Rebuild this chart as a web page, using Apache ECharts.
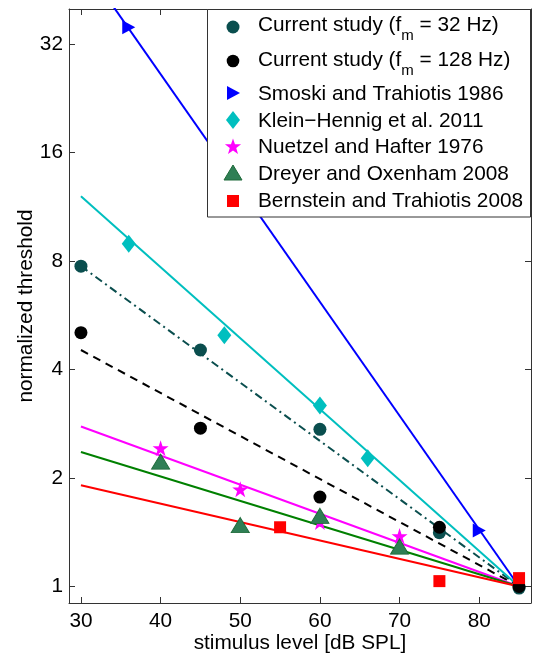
<!DOCTYPE html>
<html>
<head>
<meta charset="utf-8">
<script src="https://cdn.jsdelivr.net/npm/echarts@6/dist/echarts.min.js"></script>
<style>
html,body{margin:0;padding:0;background:#fff;}
#chart{width:536px;height:655px;}
</style>
</head>
<body>
<div id="chart"></div>
<script>
// ---- data ----
const seriesNames = [
  'Current study (f_m = 32 Hz)',
  'Current study (f_m = 128 Hz)',
  'Smoski and Trahiotis 1986',
  'Klein\u2212Hennig et al. 2011',
  'Nuetzel and Hafter 1976',
  'Dreyer and Oxenham 2008',
  'Bernstein and Trahiotis 2008'
];
const current32X = [30, 45, 60, 75, 85];
const current32Y = [7.74, 4.53, 2.73, 1.41, 0.99];
const current128X = [30, 45, 60, 75, 85];
const current128Y = [5.06, 2.75, 1.77, 1.46, 1.0];
const smoskiX = [36, 80];
const smoskiY = [35.6, 1.43];
const kleinX = [36, 48, 60, 66];
const kleinY = [8.93, 4.98, 3.18, 2.27];
const nuetzelX = [40, 50, 60, 70];
const nuetzelY = [2.42, 1.86, 1.51, 1.38];
const dreyerX = [40, 50, 60, 70];
const dreyerY = [2.22, 1.48, 1.57, 1.29];
const bernX = [55, 75, 85];
const bernY = [1.46, 1.035, 1.055];

// fitted lines (start level, end level)
const fitX = [30, 85];
const fit32Y = [7.74, 1];
const fit128Y = [4.53, 1];
const fitSmoskiY = [54.6, 1];
const fitKleinY = [12.1, 1];
const fitNuetzelY = [2.78, 1];
const fitDreyerY = [2.36, 1];
const fitBernY = [1.91, 1];

const xTickLabels = ['30', '40', '50', '60', '70', '80'];
const yTickLabels = ['1', '2', '4', '8', '16', '32'];

// ---- styles ----
const FONT = '"Liberation Sans", Arial, Helvetica, sans-serif';
const FS = 20.8;
const C_TEAL = '#0a4e4e', C_BLACK = '#000000', C_BLUE = '#0000ff', C_CYAN = '#00bfbf',
      C_MAG = '#ff00ff', C_GREEN = '#008000', C_GTRI = '#2f7f55', C_RED = '#ff0000';
const STAR = 'path://M50,0L61.8,35.1L98.9,35.1L68.9,56.8L80.3,91.9L50,70.2L19.7,91.9L31.1,56.8L1.1,35.1L38.2,35.1Z';
const RTRI = 'path://M0,0L12,7L0,14Z';

function pairs(xs, ys) { return xs.map((x, i) => [x, ys[i]]); }

const chart = echarts.init(document.getElementById('chart'), null, {renderer: 'canvas'});

const axisCommon = {
  axisLine: {show: true, onZero: false, lineStyle: {color: '#333', width: 1}},
  axisTick: {show: true, inside: true, length: 6, lineStyle: {color: '#333', width: 1}},
  splitLine: {show: false},
};

function lineSeries(name, ys, color, type) {
  return {
    name: name, type: 'line', data: pairs(fitX, ys), symbol: 'none', z: 2,
    lineStyle: {color: color, width: 2, type: type || 'solid'}, clip: true, silent: true
  };
}
function scatterSeries(name, xs, ys, symbol, size, color, extra) {
  return Object.assign({
    name: name, type: 'scatter', data: pairs(xs, ys), symbol: symbol, symbolSize: size, z: 3,
    symbolKeepAspect: false,
    itemStyle: {color: color, opacity: 1}
  }, extra || {});
}

// legend drawn as graphic (markers + text)
const LX = 233, TX = 258;
const rowY = [25, 60, 94, 121, 147, 174, 201];
const SUB_FS = 15, SUB_DY = 11;
const measureCtx = document.createElement('canvas').getContext('2d');
function textWidth(t, fs) { measureCtx.font = fs + 'px ' + FONT; return measureCtx.measureText(t).width; }
function starPoints(cx, cy, R, r) {
  const pts = [];
  for (let i = 0; i < 10; i++) {
    const a = -Math.PI / 2 + i * Math.PI / 5;
    const rad = i % 2 === 0 ? R : r;
    pts.push([cx + rad * Math.cos(a), cy + rad * Math.sin(a)]);
  }
  return pts;
}
const legendEls = [
  {type: 'rect', z: 100, shape: {x: 207.5, y: 9.5, width: 323, height: 207.5},
   style: {fill: '#fff', stroke: '#333', lineWidth: 1}},
  {type: 'circle', z: 101, shape: {cx: LX, cy: 27, r: 6.5}, style: {fill: C_TEAL}},
  {type: 'circle', z: 101, shape: {cx: LX, cy: 61, r: 6.3}, style: {fill: C_BLACK}},
  {type: 'polygon', z: 101, shape: {points: [[LX - 6, 86], [LX + 7, 93], [LX - 6, 100]]}, style: {fill: C_BLUE}},
  {type: 'polygon', z: 101, shape: {points: [[LX, 111], [LX + 7, 120], [LX, 129], [LX - 7, 120]]}, style: {fill: C_CYAN}},
  {type: 'polygon', z: 101, shape: {points: starPoints(LX, 147, 8.5, 3.4)}, style: {fill: C_MAG}},
  {type: 'polygon', z: 101, shape: {points: [[LX, 165], [LX + 9, 180], [LX - 9, 180]]}, style: {fill: C_GTRI, stroke: '#1f6b3a', lineWidth: 1}},
  {type: 'rect', z: 101, shape: {x: LX - 6, y: 195, width: 12, height: 12}, style: {fill: C_RED}}
];
function txt(x, y, t, fs) {
  return {type: 'text', z: 101, x: x, y: y,
    style: {text: t, fill: '#000', font: fs + 'px ' + FONT, align: 'left', verticalAlign: 'middle'}};
}
seriesNames.forEach((n, i) => {
  const m = n.match(/^(.*\(f)_m( = .*)$/);
  if (m) {
    const w1 = textWidth(m[1], FS);
    const w2 = textWidth('m', SUB_FS);
    legendEls.push(txt(TX, rowY[i], m[1], FS));
    legendEls.push(txt(TX + w1, rowY[i] + SUB_DY, 'm', SUB_FS));
    legendEls.push(txt(TX + w1 + w2, rowY[i], m[2], FS));
  } else {
    legendEls.push(txt(TX, rowY[i], n, FS));
  }
});

const option = {
  animation: false,
  backgroundColor: '#fff',
  textStyle: {fontFamily: FONT},
  grid: {left: 69, top: 9, right: 5, bottom: 52, containLabel: false, outerBoundsMode: 'none', show: false},
  xAxis: [
    Object.assign({
      type: 'value', position: 'bottom', min: 28.5, max: 86.5, splitNumber: 5,
      name: 'stimulus level [dB SPL]', nameLocation: 'middle', nameGap: 30, nameMoveOverlap: false,
      nameTextStyle: {fontSize: FS, color: '#000', fontFamily: FONT},
      axisLabel: {fontSize: FS, color: '#000', margin: 8, fontFamily: FONT, showMinLabel: false, showMaxLabel: false,
        formatter: v => xTickLabels.includes(String(v)) ? String(v) : ''}
    }, axisCommon),
    Object.assign({
      type: 'value', position: 'top', min: 28.5, max: 86.5, splitNumber: 5,
      axisLabel: {show: false}
    }, axisCommon)
  ],
  yAxis: [
    Object.assign({
      type: 'log', logBase: 2, position: 'left', min: 0.9, max: 40,
      name: 'normalized threshold', nameLocation: 'middle', nameGap: 32, nameMoveOverlap: false,
      nameTextStyle: {fontSize: FS, color: '#000', fontFamily: FONT},
      axisLabel: {fontSize: FS, color: '#000', margin: 6, fontFamily: FONT, showMinLabel: false, showMaxLabel: false,
        formatter: v => { const s = String(Math.round(v * 1000) / 1000); return yTickLabels.includes(s) ? s : ''; }}
    }, axisCommon),
    Object.assign({
      type: 'log', logBase: 2, position: 'right', min: 0.9, max: 40,
      axisLabel: {show: false}
    }, axisCommon)
  ],
  series: [
    lineSeries('fit32', fit32Y, C_TEAL, [8, 4, 2, 4]),
    lineSeries('fit128', fit128Y, C_BLACK, [8, 6]),
    lineSeries('fitSmoski', fitSmoskiY, C_BLUE),
    lineSeries('fitKlein', fitKleinY, C_CYAN),
    lineSeries('fitNuetzel', fitNuetzelY, C_MAG),
    lineSeries('fitDreyer', fitDreyerY, C_GREEN),
    lineSeries('fitBern', fitBernY, C_RED),
    scatterSeries(seriesNames[0].replace('_m', 'm'), current32X, current32Y, 'circle', 13, C_TEAL),
    scatterSeries(seriesNames[1].replace('_m', 'm'), current128X, current128Y, 'circle', 13, C_BLACK),
    scatterSeries(seriesNames[2], smoskiX, smoskiY, RTRI, [13, 14], C_BLUE),
    scatterSeries(seriesNames[3], kleinX, kleinY, 'diamond', [14, 18], C_CYAN),
    scatterSeries(seriesNames[4], nuetzelX, nuetzelY, STAR, [16, 16], C_MAG),
    scatterSeries(seriesNames[5], dreyerX, dreyerY, 'triangle', [18, 15], C_GTRI,
      {itemStyle: {color: C_GTRI, borderColor: '#1f6b3a', borderWidth: 1, opacity: 1}}),
    scatterSeries(seriesNames[6], bernX, bernY, 'rect', 12, C_RED)
  ],
  graphic: {elements: legendEls}
};
chart.setOption(option);
</script>
</body>
</html>
